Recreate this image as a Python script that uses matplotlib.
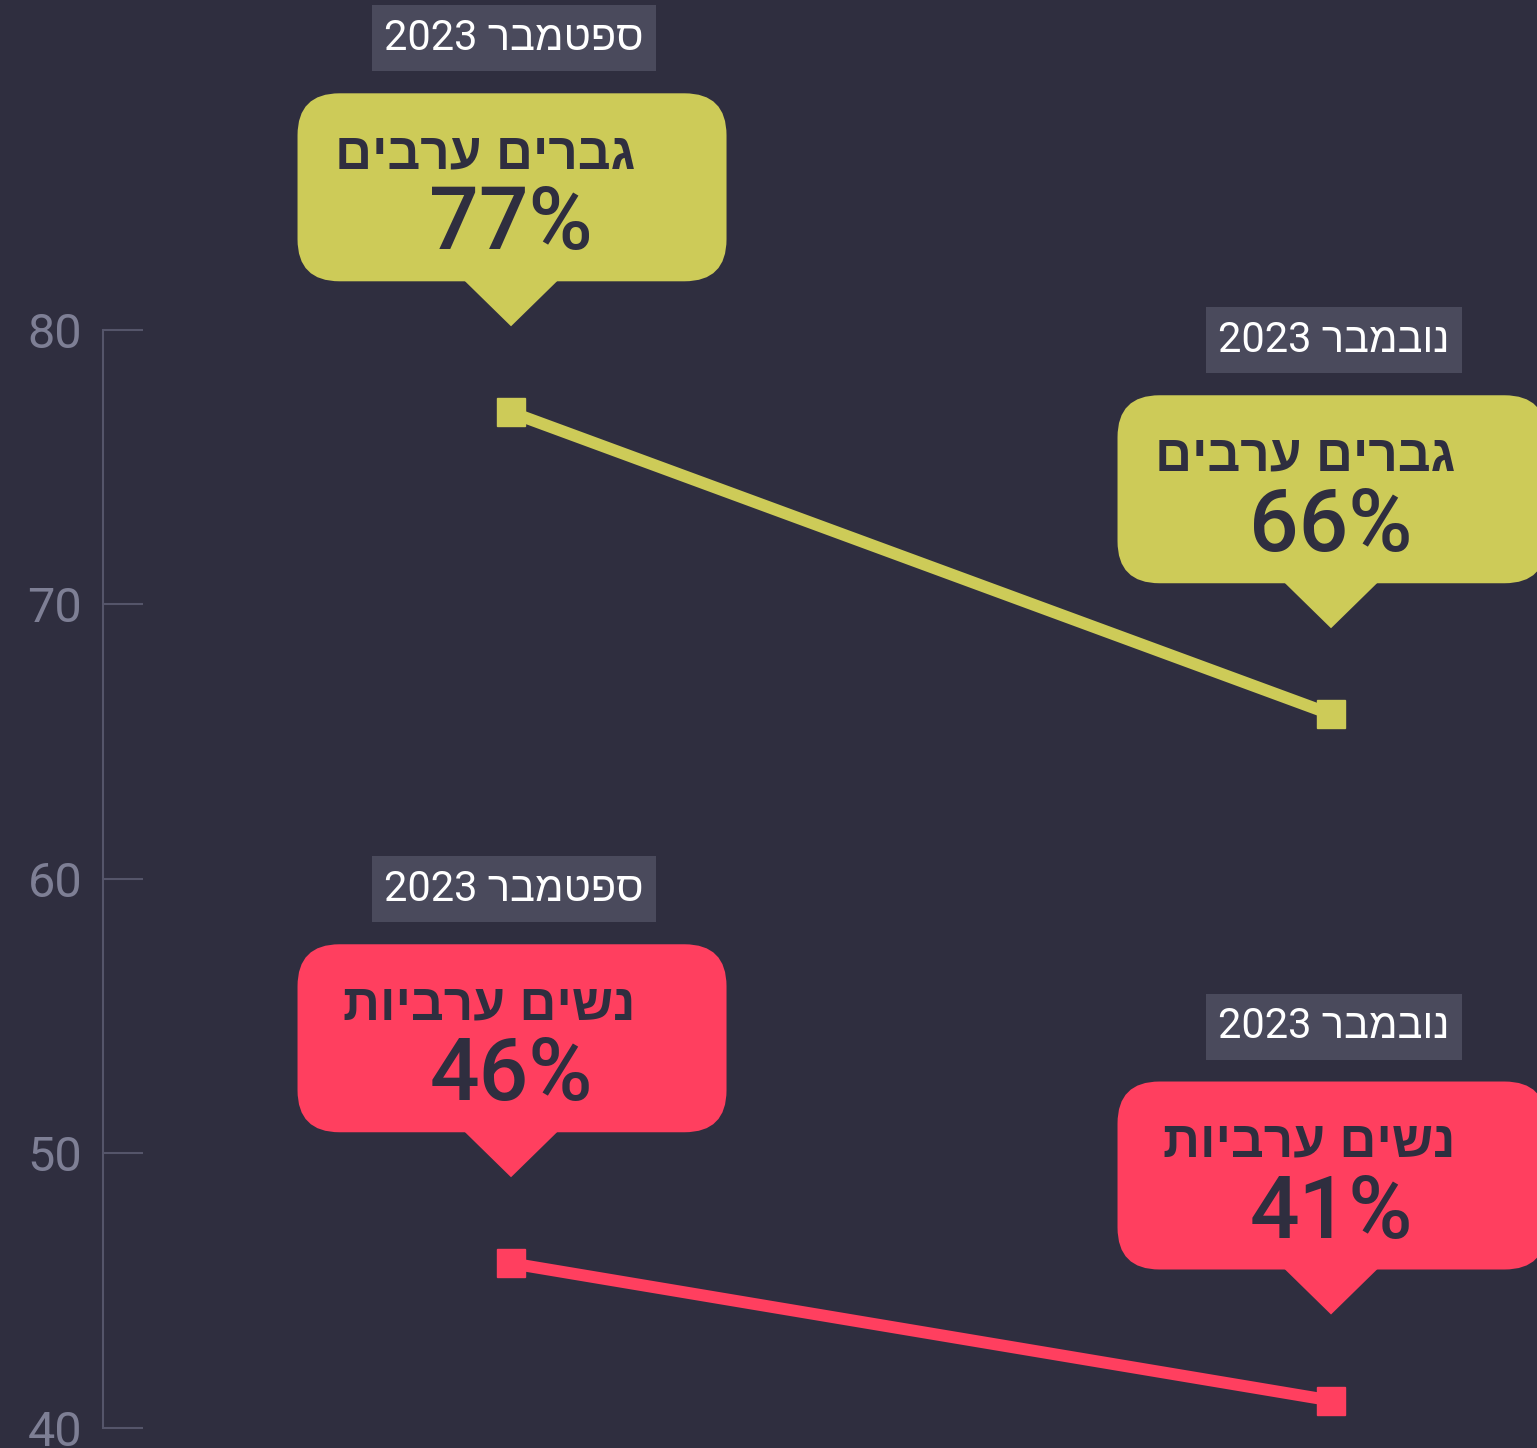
import matplotlib
matplotlib.use('Agg')
import matplotlib.pyplot as plt
from matplotlib.patches import FancyBboxPatch, Polygon
from matplotlib.transforms import ScaledTranslation

# data
periods = ['ספטמבר 2023', 'נובמבר 2023']
groups = ['גברים ערבים', 'נשים ערביות']
men = [77, 66]
women = [46, 41]
yticks = [40, 50, 60, 70, 80]

BG = '#2f2e3f'
YEL = '#cdcb58'
RED = '#ff3f5f'
DATEBOX = '#4a4a5c'
DARK = '#2f2e3f'
AXCOL = '#55556a'
TICKLAB = '#7e7f95'


def vis(s):
    # matplotlib has no bidi: put Hebrew words in visual order
    out = []
    for w in s.split(' ')[::-1]:
        if any('\u0590' <= c <= '\u05ff' for c in w):
            w = w[::-1]
        out.append(w)
    return ' '.join(out)


fig = plt.figure(figsize=(15.37, 14.48), dpi=100)
fig.patch.set_facecolor(BG)
ax = fig.add_axes([103 / 1537, 0, 1 - 103 / 1537, 1])
ax.set_facecolor(BG)
ax.set_autoscale_on(False)
ax.set_xlim(-0.4976, 1.2512)
ax.set_ylim(39.27, 92.02)

for s in ['top', 'right', 'bottom']:
    ax.spines[s].set_visible(False)
ax.spines['left'].set_color(AXCOL)
ax.spines['left'].set_linewidth(1.5)
ax.spines['left'].set_bounds(40, 80)
ax.set_xticks([])
ax.set_yticks(yticks)
ax.tick_params(axis='y', direction='in', length=29, width=1.5, color=AXCOL,
               labelsize=35, labelcolor=TICKLAB, pad=15)
for lab in ax.get_yticklabels():
    lab.set_family(['Roboto', 'DejaVu Sans'])

x = [0, 1]
ax.plot(x, men, color=YEL, lw=8.6, marker='s', ms=20, clip_on=False, zorder=3)
ax.plot(x, women, color=RED, lw=8.6, marker='s', ms=20, clip_on=False, zorder=3)


def callout(xv, yv, color, title, date):
    tr = fig.dpi_scale_trans + ScaledTranslation(xv, yv, ax.transData)
    tip = 0.86
    bot = tip + 0.45
    h = 1.88
    box = FancyBboxPatch((-2.135, bot), 4.29, h,
                         boxstyle='round,pad=0,rounding_size=0.42',
                         transform=tr, fc=color, ec='none', clip_on=False, zorder=4)
    ax.add_patch(box)
    tri = Polygon([(-0.48, bot + 0.02), (0.48, bot + 0.02), (0, tip)], closed=True,
                  transform=tr, fc=color, ec='none', clip_on=False, zorder=4)
    ax.add_patch(tri)
    top = bot + h
    ax.text(1.24, top - 0.75, vis(title), transform=tr, ha='right', va='baseline',
            fontsize=37, fontweight='bold', color=DARK,
            family=['Liberation Sans', 'DejaVu Sans'], zorder=5)
    ax.text(0, top - 1.56, f'{yv}%', transform=tr, ha='center', va='baseline',
            fontsize=63, fontweight='medium', color=DARK,
            family=['Roboto', 'DejaVu Sans'], zorder=5)
    ax.text(0.03, top + 0.22 + 0.33, vis(date), transform=tr, ha='center', va='center',
            fontsize=30, color='white', family=['Roboto', 'Liberation Sans'], zorder=5,
            bbox=dict(boxstyle='square,pad=0.3', fc=DATEBOX, ec='none'))


for i in range(2):
    callout(x[i], men[i], YEL, groups[0], periods[i])
    callout(x[i], women[i], RED, groups[1], periods[i])

fig.savefig('out.png', dpi=100, facecolor=BG)
